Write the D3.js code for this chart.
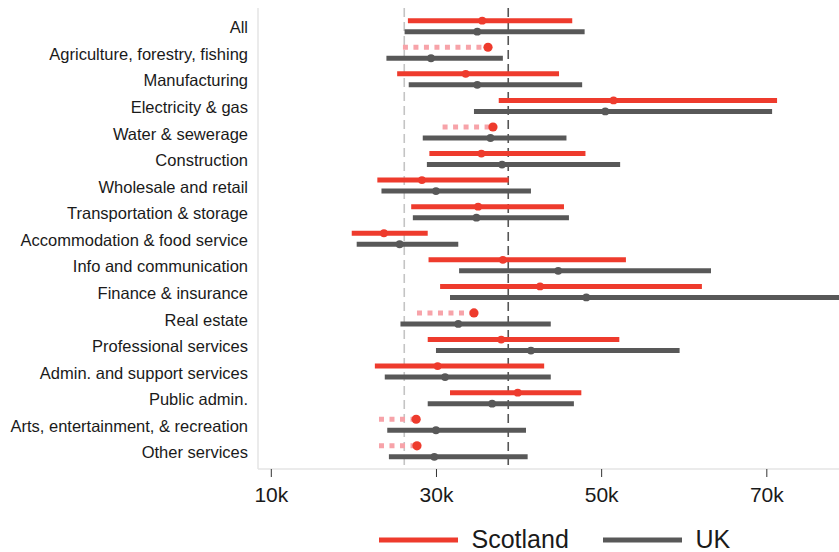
<!DOCTYPE html>
<html>
<head>
<meta charset="utf-8">
<script src="https://cdn.jsdelivr.net/npm/d3@7"></script>
<style>
    body { margin: 0; background: #fff; }
    text { font-family: "Liberation Sans", Arial, sans-serif; fill: #1a1a1a; }
</style>
</head>
<body>
<svg id="drawing_region"></svg>
<script>
// values in thousands of pounds
const categories = [
    "All", "Agriculture, forestry, fishing", "Manufacturing", "Electricity & gas",
    "Water & sewerage", "Construction", "Wholesale and retail", "Transportation & storage",
    "Accommodation & food service", "Info and communication", "Finance & insurance",
    "Real estate", "Professional services", "Admin. and support services",
    "Public admin.", "Arts, entertainment, & recreation", "Other services"
];

// Scotland: null high = only a partial (dotted) range shown
const scot_low  = [26.6, 26.0, 25.3, 37.6, 30.8, 29.2, 22.9, 27.0, 19.8, 29.1, 30.5, 27.7, 29.0, 22.6, 31.7, 23.1, 23.1];
const scot_mid  = [35.6, 36.3, 33.6, 51.5, 36.9, 35.5, 28.3, 35.1, 23.7, 38.1, 42.6, 34.6, 37.9, 30.2, 39.9, 27.6, 27.7];
const scot_high = [46.5, null, 44.9, 71.3, null, 48.1, 38.8, 45.5, 29.0, 53.0, 62.2, null, 52.2, 43.1, 47.6, null, null];

const uk_low  = [26.2, 24.0, 26.7, 34.6, 28.4, 28.9, 23.4, 27.2, 20.4, 32.8, 31.7, 25.7, 30.0, 23.8, 29.0, 24.1, 24.3];
const uk_mid  = [35.0, 29.4, 35.0, 50.5, 36.6, 38.0, 30.0, 34.9, 25.6, 44.8, 48.2, 32.7, 41.5, 31.1, 36.8, 30.0, 29.8];
const uk_high = [48.0, 38.1, 47.7, 70.7, 45.8, 52.3, 41.5, 46.1, 32.7, 63.3, 80.0, 43.9, 59.5, 43.9, 46.7, 40.9, 41.1];

const ref_lines = [26.16, 38.75];
const x_ticks = [10, 30, 50, 70];
const series_names = ["Scotland", "UK"];

const config = {
    parent: '#drawing_region',
    width: 839,
    height: 552,
    plot: {left: 258, right: 839, top: 8, bottom: 469},
    row_top: 26.2,
    row_bottom: 451.3,
    offset: 5.5,
    red: '#ee3b2d',
    pink: '#f7a3a9',
    grey: '#585858'
};

class RangePlot {

    constructor( config ) {
        this.config = config;
        this.init();
    }

    init() {
        let self = this;

        self.svg = d3.select( self.config.parent )
            .attr('width', self.config.width)
            .attr('height', self.config.height);

        const p = self.config.plot;

        self.xscale = d3.scaleLinear()
            .domain( [8.45, 78.8] )
            .range( [p.left, p.right] );

        self.yscale = d3.scalePoint()
            .domain( categories )
            .range( [self.config.row_top, self.config.row_bottom] );

        self.svg.append('clipPath')
            .attr('id', 'plotclip')
            .append('rect')
            .attr('x', p.left)
            .attr('y', 0)
            .attr('width', p.right - p.left)
            .attr('height', p.bottom);

        self.chart = self.svg.append('g')
            .attr('clip-path', 'url(#plotclip)');
    }

    render() {
        let self = this;
        const p = self.config.plot;
        const off = self.config.offset;

        // frame (left side)
        self.svg.append('line')
            .attr('x1', p.left).attr('x2', p.left)
            .attr('y1', p.top).attr('y2', p.bottom)
            .attr('stroke', '#e4e4e4').attr('stroke-width', 1.5);

        // reference lines
        self.chart.selectAll('.ref')
            .data(ref_lines)
            .enter()
            .append('line')
            .attr('x1', d => self.xscale(d))
            .attr('x2', d => self.xscale(d))
            .attr('y1', p.top)
            .attr('y2', p.bottom)
            .attr('stroke', (d, i) => i == 0 ? '#c4c4c4' : '#555')
            .attr('stroke-width', 1.6)
            .attr('stroke-dasharray', '9,5');

        const rows = categories.map( (c, i) => ({
            cat: c,
            s_low: scot_low[i], s_mid: scot_mid[i], s_high: scot_high[i],
            u_low: uk_low[i], u_mid: uk_mid[i], u_high: uk_high[i]
        }));

        // UK ranges
        self.chart.selectAll('.uk')
            .data(rows)
            .enter()
            .append('line')
            .attr('x1', d => self.xscale(d.u_low))
            .attr('x2', d => self.xscale(d.u_high))
            .attr('y1', d => self.yscale(d.cat) + off)
            .attr('y2', d => self.yscale(d.cat) + off)
            .attr('stroke', self.config.grey)
            .attr('stroke-width', 5);

        self.chart.selectAll('.ukdot')
            .data(rows)
            .enter()
            .append('circle')
            .attr('cx', d => self.xscale(d.u_mid))
            .attr('cy', d => self.yscale(d.cat) + off)
            .attr('r', 3.9)
            .attr('fill', self.config.grey);

        // Scotland full ranges
        const full = rows.filter(d => d.s_high != null);
        const part = rows.filter(d => d.s_high == null);

        self.chart.selectAll('.scot')
            .data(full)
            .enter()
            .append('line')
            .attr('x1', d => self.xscale(d.s_low))
            .attr('x2', d => self.xscale(d.s_high))
            .attr('y1', d => self.yscale(d.cat) - off)
            .attr('y2', d => self.yscale(d.cat) - off)
            .attr('stroke', self.config.red)
            .attr('stroke-width', 5);

        self.chart.selectAll('.scotpart')
            .data(part)
            .enter()
            .append('line')
            .attr('x1', d => self.xscale(d.s_low))
            .attr('x2', d => self.xscale(d.s_mid))
            .attr('y1', d => self.yscale(d.cat) - off)
            .attr('y2', d => self.yscale(d.cat) - off)
            .attr('stroke', self.config.pink)
            .attr('stroke-width', 5)
            .attr('stroke-dasharray', '5,5.5');

        self.chart.selectAll('.scotdot')
            .data(rows)
            .enter()
            .append('circle')
            .attr('cx', d => self.xscale(d.s_mid))
            .attr('cy', d => self.yscale(d.cat) - off)
            .attr('r', d => d.s_high == null ? 4.6 : 3.9)
            .attr('fill', self.config.red);

        // category labels
        self.svg.selectAll('.cat')
            .data(categories)
            .enter()
            .append('text')
            .attr('x', 248)
            .attr('y', d => self.yscale(d) + 1.3)
            .attr('dy', '0.35em')
            .attr('text-anchor', 'end')
            .attr('font-size', '16.5px')
            .text(d => d);

        // x axis
        self.xaxis = d3.axisBottom( self.xscale )
            .tickValues(x_ticks)
            .tickSize(8)
            .tickPadding(10)
            .tickFormat(d => d + 'k');

        self.xaxis_group = self.svg.append('g')
            .attr('transform', `translate(0, ${p.bottom})`)
            .call(self.xaxis);

        self.xaxis_group.select('.domain')
            .attr('d', `M${p.left},0H${p.right}`)
            .attr('stroke', '#e4e4e4')
            .attr('stroke-width', 1.5);
        self.xaxis_group.selectAll('.tick line')
            .attr('stroke', '#333');
        self.xaxis_group.selectAll('.tick text')
            .attr('font-size', '21px')
            .attr('font-family', '"Liberation Sans", Arial, sans-serif')
            .attr('fill', '#1a1a1a');

        // legend
        const legend_x = [379, 603];
        const legend = self.svg.selectAll('.legend')
            .data(series_names)
            .enter()
            .append('g')
            .attr('transform', (d, i) => `translate(${legend_x[i]}, 540)`);

        legend.append('line')
            .attr('x1', 0).attr('x2', 79)
            .attr('y1', 0).attr('y2', 0)
            .attr('stroke', (d, i) => i == 0 ? self.config.red : self.config.grey)
            .attr('stroke-width', 5);

        legend.append('text')
            .attr('x', 92.5)
            .attr('y', 7.5)
            .attr('font-size', '25px')
            .text(d => d);
    }
}

const range_plot = new RangePlot( config );
range_plot.render();
</script>
</body>
</html>
